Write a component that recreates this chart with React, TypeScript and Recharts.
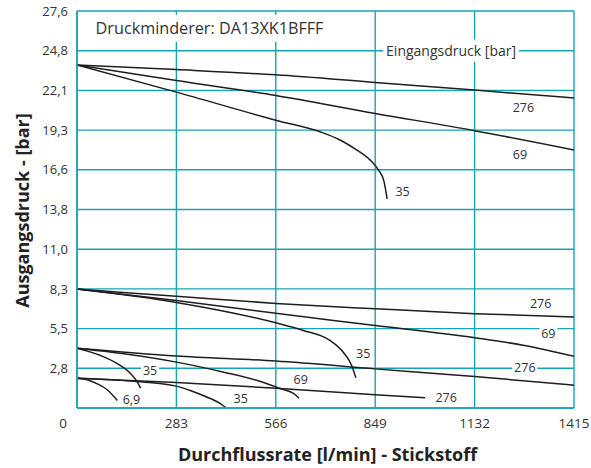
import { LineChart, Line, XAxis, YAxis, CartesianGrid, ReferenceDot, Label } from "recharts";

const TEAL = "#17a3b3";
const INK = "#1e1e1e";
const FONT = "'Open Sans', sans-serif";

// axis ticks
const flowTicks = [0, 283, 566, 849, 1132, 1415];
const pressureTicks = [2.76, 5.52, 8.28, 11.04, 13.8, 16.56, 19.32, 22.08, 24.84, 27.6];
const pressureTickLabels = ["2,8", "5,5", "8,3", "11,0", "13,8", "16,6", "19,3", "22,1", "24,8", "27,6"];

// set pressure ~23.9 bar
const hi276Flow = [0, 283, 566, 849, 1132, 1415];
const hi276Out = [23.85, 23.53, 23.16, 22.63, 22.1, 21.55];
const hi69Flow = [0, 283, 566, 849, 1132, 1415];
const hi69Out = [23.85, 22.77, 21.73, 20.48, 19.28, 17.94];
const hi35Flow = [0, 283, 566, 692, 749, 796, 834, 858, 874, 883];
const hi35Out = [23.85, 21.96, 20.01, 19.2, 18.63, 17.94, 17.25, 16.56, 15.76, 14.54];

// set pressure ~8.3 bar
const mid276Flow = [0, 283, 566, 849, 1132, 1415];
const mid276Out = [8.27, 7.77, 7.27, 6.9, 6.56, 6.32];
const mid69Flow = [0, 283, 566, 849, 1132, 1274, 1415];
const mid69Out = [8.27, 7.48, 6.58, 5.74, 4.89, 4.35, 3.6];
const mid35Flow = [0, 283, 566, 644, 720, 758, 782, 794];
const mid35Out = [8.27, 7.34, 5.92, 5.39, 4.7, 3.88, 2.96, 2.1];

// set pressure ~4.2 bar
const low276Flow = [0, 283, 566, 849, 1132, 1415];
const low276Out = [4.16, 3.62, 3.26, 2.72, 2.19, 1.59];
const low69Flow = [0, 134, 283, 418, 513, 580, 618, 632];
const low69Out = [4.16, 3.77, 3.19, 2.49, 1.91, 1.34, 0.99, 0.68];
const low35Flow = [0, 67, 115, 153, 172, 181];
const low35Out = [4.16, 3.65, 3.08, 2.38, 1.8, 1.38];

// set pressure ~2.1 bar
const min276Flow = [0, 283, 566, 849, 991];
const min276Out = [2.07, 1.78, 1.38, 0.92, 0.71];
const min35Flow = [0, 140, 283, 330, 371, 409, 423];
const min35Out = [2.07, 1.9, 1.52, 1.15, 0.75, 0.29, 0.05];
const min69Flow = [0, 29, 58, 86, 115];
const min69Out = [2.07, 1.96, 1.68, 1.27, 0.52];

const toPoints = (flow: number[], out: number[]) => flow.map((x, i) => ({ x, y: out[i] }));

const curves = [
  toPoints(hi276Flow, hi276Out),
  toPoints(hi69Flow, hi69Out),
  toPoints(hi35Flow, hi35Out),
  toPoints(mid276Flow, mid276Out),
  toPoints(mid69Flow, mid69Out),
  toPoints(mid35Flow, mid35Out),
  toPoints(low276Flow, low276Out),
  toPoints(low69Flow, low69Out),
  toPoints(low35Flow, low35Out),
  toPoints(min276Flow, min276Out),
  toPoints(min35Flow, min35Out),
  toPoints(min69Flow, min69Out),
];

// inlet pressure labels next to the curves
const tagText = ["276", "69", "35", "276", "69", "35", "276", "69", "35", "276", "35", "6,9"];
const tagFlow = [1271, 1261, 927, 1320, 1342, 815, 1275, 637, 208, 1051, 466, 155];
const tagOut = [20.89, 17.62, 15.07, 7.29, 5.21, 3.81, 2.8, 1.96, 2.61, 0.75, 0.68, 0.59];
const tagMasked = [false, false, false, false, true, false, true, false, true, false, false, false];

const Tag = (props: any) => {
  const { viewBox, value, masked, size = 12.5, anchor = "middle", padX = 2, boxH, boxW } = props;
  const x = viewBox.x + (viewBox.width || 0) / 2;
  const y = viewBox.y + (viewBox.height || 0) / 2;
  const w = boxW ?? String(value).length * size * 0.56 + padX * 2;
  const h = boxH ?? size * 1.2;
  const left = anchor === "start" ? x - padX : x - w / 2;
  return (
    <g>
      {masked && <rect x={left} y={y - h / 2} width={w} height={h} fill="#fff" />}
      <text x={x} y={y} textAnchor={anchor} dominantBaseline="central" fontFamily={FONT} fontSize={size} fill="#333">
        {value}
      </text>
    </g>
  );
};

const XTick = (props: any) => {
  const { x, y, payload } = props;
  return (
    <text x={payload.value === 0 ? x - 14 : x} y={y} dy="0.71em" textAnchor="middle" fontFamily={FONT} fontSize={13.5} fill="#333">
      {payload.value}
    </text>
  );
};

const App = () => {
  return (
    <div style={{ position: "absolute", left: 0, top: 0, width: 591, height: 468, background: "#fff" }}>
      <LineChart width={591} height={468} margin={{ top: 11, right: 17, bottom: 0, left: 0 }}>
        <CartesianGrid stroke={TEAL} strokeWidth={1.4} />
        <XAxis
          type="number"
          dataKey="x"
          domain={[0, 1415]}
          ticks={flowTicks}
          height={60}
          tickLine={false}
          tickSize={6}
          tickMargin={4}
          axisLine={{ stroke: TEAL, strokeWidth: 1.6 }}
          tick={<XTick />}
          allowDataOverflow
        >
          <Label
            content={(p: any) => (
              <text
                x={p.viewBox.x + p.viewBox.width / 2 + 2}
                y={p.viewBox.y + 45.5}
                textAnchor="middle"
                dominantBaseline="central"
                fontFamily={FONT}
                fontWeight={700}
                fontSize={18}
                fill="#222"
              >
                Durchflussrate [l/min] - Stickstoff
              </text>
            )}
          />
        </XAxis>
        <YAxis
          type="number"
          domain={[0, 27.6]}
          ticks={pressureTicks}
          width={77}
          tickLine={false}
          tickSize={7}
          tickMargin={2}
          axisLine={{ stroke: TEAL, strokeWidth: 1.6 }}
          tick={{ fontFamily: FONT, fontSize: 13, fill: "#333" }}
          tickFormatter={(v: number) => pressureTickLabels[pressureTicks.indexOf(v)] ?? ""}
          allowDataOverflow
        >
          <Label
            content={(p: any) => {
              const cx = p.viewBox.x + 22;
              const cy = p.viewBox.y + p.viewBox.height / 2 + 1;
              return (
                <text
                  x={cx}
                  y={cy}
                  transform={`rotate(-90 ${cx} ${cy})`}
                  textAnchor="middle"
                  dominantBaseline="central"
                  fontFamily={FONT}
                  fontWeight={700}
                  fontSize={18}
                  fill="#222"
                >
                  Ausgangsdruck - [bar]
                </text>
              );
            }}
          />
        </YAxis>
        {curves.map((pts, i) => (
          <Line
            key={i}
            data={pts}
            dataKey="y"
            type="monotone"
            stroke={INK}
            strokeWidth={1.5}
            dot={false}
            activeDot={false}
            isAnimationActive={false}
          />
        ))}
        <ReferenceDot x={53} y={26.39} r={0} stroke="none" fill="none">
          <Label content={<Tag value="Druckminderer: DA13XK1BFFF" size={16.2} anchor="start" masked padX={5} boxH={27} />} />
        </ReferenceDot>
        <ReferenceDot x={1065} y={24.84} r={0} stroke="none" fill="none">
          <Label content={<Tag value="Eingangsdruck [bar]" size={14} masked boxW={136} boxH={22} />} />
        </ReferenceDot>
        {tagText.map((t, i) => (
          <ReferenceDot key={"t" + i} x={tagFlow[i]} y={tagOut[i]} r={0} stroke="none" fill="none">
            <Label content={<Tag value={t} masked={tagMasked[i]} />} />
          </ReferenceDot>
        ))}
      </LineChart>
    </div>
  );
};

export default App;
